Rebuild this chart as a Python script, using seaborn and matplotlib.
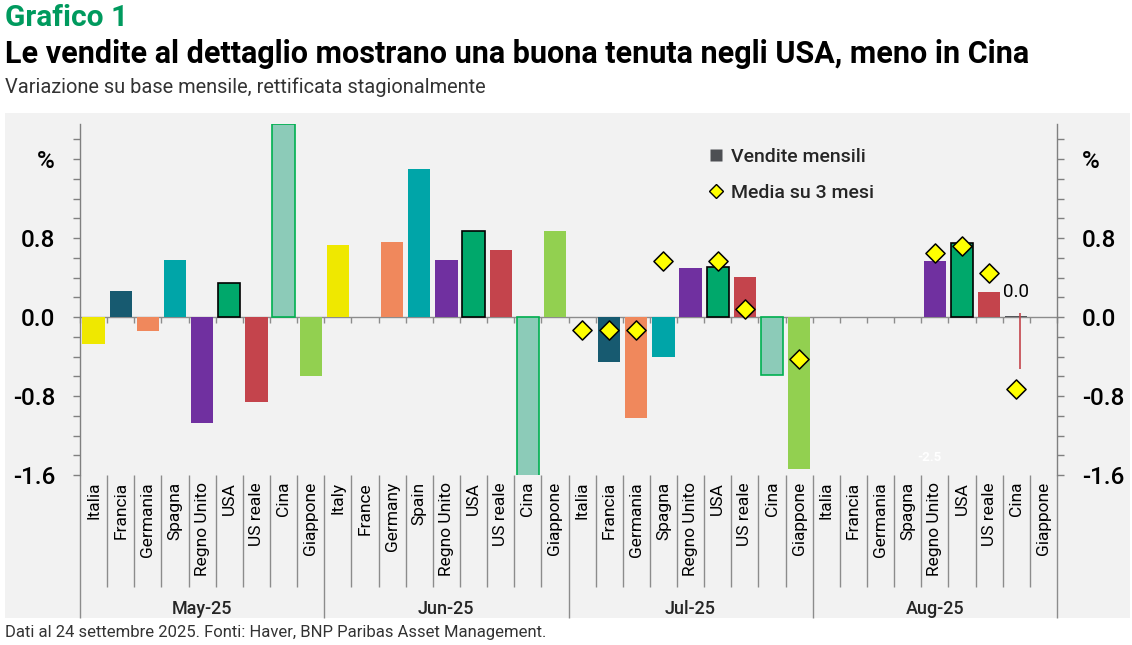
import numpy as np
import pandas as pd
import seaborn as sns
import matplotlib.pyplot as plt
from matplotlib.patches import Rectangle
from matplotlib.lines import Line2D

# ---- data ----
months = ["May-25", "Jun-25", "Jul-25", "Aug-25"]
labels_it = ["Italia", "Francia", "Germania", "Spagna", "Regno Unito", "USA", "US reale", "Cina", "Giappone"]
labels_jun = ["Italy", "France", "Germany", "Spain", "Regno Unito", "USA", "US reale", "Cina", "Giappone"]

may_vals = [-0.27, 0.26, -0.14, 0.58, -1.07, 0.34, -0.86, 1.95, -0.60]
jun_vals = [0.73, np.nan, 0.76, 1.50, 0.58, 0.87, 0.68, -2.5, 0.87]
jul_vals = [np.nan, -0.46, -1.02, -0.40, 0.50, 0.51, 0.41, -0.59, -1.54]
aug_vals = [np.nan, np.nan, np.nan, np.nan, 0.57, 0.75, 0.25, 0.01, np.nan]

may_avg = [np.nan] * 9
jun_avg = [np.nan] * 9
jul_avg = [-0.13, -0.13, -0.13, 0.57, np.nan, 0.57, 0.08, np.nan, -0.43]
aug_avg = [np.nan, np.nan, np.nan, np.nan, 0.65, 0.72, 0.45, -0.73, np.nan]

cina_aug_range = [0.04, -0.53]   # thin red line under Cina Aug
stray_label = "-2.5"

country_colors = ["#efe800", "#175a70", "#f0885c", "#00a5a8", "#7030a0",
                  "#00a86b", "#c4444c", "#8ccbb8", "#92d050"]
country_edges = [None, None, None, None, None, "black", None, "#00b050", None]

# ---- build frames ----
rows = []
for m, (vals, avgs) in enumerate(zip([may_vals, jun_vals, jul_vals, aug_vals],
                                     [may_avg, jun_avg, jul_avg, aug_avg])):
    labs = labels_jun if m == 1 else labels_it
    for j in range(9):
        rows.append(dict(month=months[m], label=labs[j], j=j,
                         pos=m * 9 + j + 0.5, value=vals[j], avg=avgs[j]))
df = pd.DataFrame(rows)
df["key"] = df["pos"].astype(str)

bars = df.dropna(subset=["value"]).copy()
palette = {}
for _, r in bars.iterrows():
    palette[r["key"]] = country_colors[r["j"]]
# Aug-25 China bar is drawn in dark grey
palette[df.loc[(df.month == "Aug-25") & (df.j == 7), "key"].iloc[0]] = "#55575b"

avgs = df.dropna(subset=["avg"])

# ---- figure ----
W, H = 1132, 645
fig = plt.figure(figsize=(W / 100, H / 100), dpi=100)
sns.set_style("white")
plt.rcParams["font.family"] = ["Roboto", "DejaVu Sans"]

panel_bg = "#f2f2f2"
fig.patches.append(Rectangle((5 / W, 1 - 618 / H), 1125 / W, 505 / H,
                             transform=fig.transFigure, facecolor=panel_bg,
                             edgecolor="none", zorder=-10))

ax = fig.add_axes([80 / W, 1 - 475 / H, 977 / W, 351 / H])
ax.set_facecolor(panel_bg)

ymin, ymax = -1.6, 1.955

sns.barplot(data=bars, x="pos", y="value", hue="key", palette=palette,
            native_scale=True, dodge=False, width=0.82, saturation=1,
            errorbar=None, legend=False, ax=ax, zorder=2)

for p in ax.patches:
    c = p.get_x() + p.get_width() / 2
    j = int(c) % 9
    edge = country_edges[j]
    if edge is not None and not (int(c) // 9 == 3 and j == 7):
        p.set_edgecolor(edge)
        p.set_linewidth(1.2)
    else:
        p.set_edgecolor("none")

sns.scatterplot(data=avgs, x="pos", y="avg", marker="D", s=95,
                color="#ffff00", edgecolor="black", linewidth=1.1,
                ax=ax, zorder=5, legend=False)

# thin red line below Cina Aug
cina_aug = df[(df.month == "Aug-25") & (df.j == 7)]["pos"].iloc[0]
ax.vlines(cina_aug + 0.12, cina_aug_range[1], cina_aug_range[0],
          color="#c4444c", lw=1.2, zorder=4)

# value label for Cina Aug
cina_val = df[(df.month == "Aug-25") & (df.j == 7)]["value"].iloc[0]
ax.annotate(f"{cina_val:.1f}", (cina_aug, cina_val), xytext=(0, 17),
            textcoords="offset points", ha="center", va="center",
            fontsize=13.5, color="black", zorder=6)

ax.text(31.3, -1.42, stray_label, color="white", fontsize=9.5,
        fontweight="bold", ha="center", va="center", zorder=6)

n = len(df)
ax.set_xlim(0, n)
ax.set_ylim(ymin, ymax)

# y axis both sides
yt = [-1.6, -0.8, 0.0, 0.8, 1.6]
ax.set_yticks(yt, ["-1.6", "-0.8", "0.0", "0.8", "%"])
ax.set_yticks(np.arange(-1.4, 1.81, 0.2), minor=True)
ax.tick_params(axis="y", which="both", left=True, right=True,
               labelleft=True, labelright=True, length=5, width=1,
               color="#808080", direction="out", labelsize=17.5, pad=13)
for lab in ax.get_yticklabels():
    lab.set_color("black")
    lab.set_fontweight("medium")
ax.set_ylabel("")

for s in ["top", "bottom"]:
    ax.spines[s].set_visible(False)
for s in ["left", "right"]:
    ax.spines[s].set_color("#808080")
    ax.spines[s].set_linewidth(1)

# zero line with ticks at category boundaries
zero_loc = (0 - ymin) / (ymax - ymin)
sec = ax.secondary_xaxis(zero_loc)
sec.set_xticks(np.arange(0, n + 1))
sec.tick_params(axis="x", length=4, width=1, color="#8c8c8c",
                labelbottom=False, direction="out")
sec.spines["bottom"].set_color("#8c8c8c")
sec.spines["bottom"].set_linewidth(1)

# category labels
ax.set_xticks(df["pos"], df["label"], rotation=90)
ax.tick_params(axis="x", length=0, pad=5, labelsize=12.5, colors="black")
ax.set_xlabel("")

# separators under the axis
trans = ax.get_xaxis_transform()
bounds = np.arange(0, n + 1)
cat_b = [b for b in bounds if b % 9 != 0]
mon_b = [b for b in bounds if b % 9 == 0]
ax.vlines(cat_b, -112 / 351, 0, transform=trans, color="#8c8c8c",
          lw=1, clip_on=False)
ax.vlines(mon_b, -143 / 351, 0, transform=trans, color="#8c8c8c",
          lw=1, clip_on=False)
for m, name in enumerate(months):
    ax.text(m * 9 + 4.5, -(609 - 475) / 351, name, transform=trans,
            ha="center", va="center", fontsize=13, fontweight="medium")

# legend
handles = [Line2D([], [], marker="s", color="none", markerfacecolor="#4d4f53",
                  markeredgecolor="none", markersize=9),
           Line2D([], [], marker="D", color="none", markerfacecolor="#ffff00",
                  markeredgecolor="black", markersize=7.5)]
leg = fig.legend(handles, ["Vendite mensili", "Media su 3 mesi"],
                 loc="upper left", bbox_to_anchor=(700 / W, 1 - 140 / H),
                 frameon=False, fontsize=14, handlelength=0.8,
                 handletextpad=0.4, labelspacing=0.95, borderaxespad=0)
for t in leg.get_texts():
    t.set_fontweight("medium")

# titles
fig.text(5 / W, 1 - 18 / H, "Grafico 1", color="#009a5e", fontsize=21.5,
         fontweight="bold", va="center", ha="left")
fig.text(5 / W, 1 - 54 / H,
         "Le vendite al dettaglio mostrano una buona tenuta negli USA, meno in Cina",
         color="black", fontsize=22, fontweight="bold", va="center", ha="left")
fig.text(5 / W, 1 - 87 / H, "Variazione su base mensile, rettificata stagionalmente",
         color="#333333", fontsize=14.4, va="center", ha="left")
fig.text(5 / W, 1 - 633 / H,
         "Dati al 24 settembre 2025. Fonti: Haver, BNP Paribas Asset Management.",
         color="#333333", fontsize=12, va="center", ha="left")

fig.savefig("out.png", dpi=100)
